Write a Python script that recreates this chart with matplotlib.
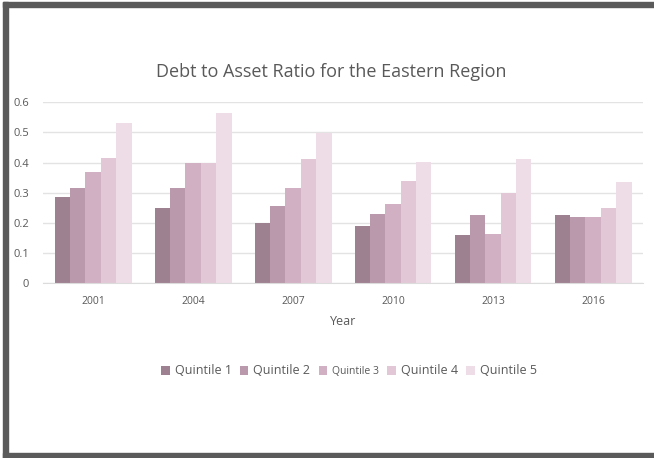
import numpy as np
import matplotlib
matplotlib.use("Agg")
import matplotlib.pyplot as plt
from matplotlib.patches import Rectangle

years = ["2001", "2004", "2007", "2010", "2013", "2016"]
series_names = ["Quintile 1", "Quintile 2", "Quintile 3", "Quintile 4", "Quintile 5"]
q1 = [0.285, 0.249, 0.201, 0.190, 0.161, 0.225]
q2 = [0.315, 0.315, 0.255, 0.231, 0.227, 0.221]
q3 = [0.369, 0.399, 0.316, 0.264, 0.163, 0.221]
q4 = [0.415, 0.400, 0.412, 0.339, 0.300, 0.250]
q5 = [0.530, 0.564, 0.499, 0.403, 0.412, 0.335]
yticks = [0, 0.1, 0.2, 0.3, 0.4, 0.5, 0.6]
ytick_labels = ["0", "0.1", "0.2", "0.3", "0.4", "0.5", "0.6"]

colors = ["#9e8191", "#b999ab", "#d2b0c3", "#e2c8d6", "#eedde6"]
text_color = "#595959"
plt.rcParams["font.family"] = ["Open Sans", "DejaVu Sans"]

fig = plt.figure(figsize=(6.54, 4.58), dpi=100)
ax = fig.add_axes([43 / 654, 1 - 283.3 / 458, 600 / 654, 181 / 458])

values = [q1, q2, q3, q4, q5]
x = np.arange(len(years))
bw = 0.154
for i, (name, vals) in enumerate(zip(series_names, values)):
    ax.bar(x + (i - 2) * bw, vals, width=bw, color=colors[i], label=name, zorder=2)

ax.set_xlim(-0.5, len(years) - 0.5)
ax.set_ylim(0, 0.6)
ax.set_yticks(yticks)
ax.set_yticklabels(ytick_labels)
ax.set_xticks(x)
ax.set_xticklabels(years)
ax.grid(axis="y", color="#e3e3e3", linewidth=1.0, zorder=0)
for s in ["top", "right", "left"]:
    ax.spines[s].set_visible(False)
ax.spines["bottom"].set_color("#dcdcdc")
ax.tick_params(axis="both", length=0, colors=text_color, labelsize=7.5)
ax.tick_params(axis="y", pad=10, labelsize=8)
ax.tick_params(axis="x", pad=9)
ax.set_xlabel("Year", color=text_color, fontsize=9, labelpad=6)

fig.text(331 / 654, 1 - 72 / 458, "Debt to Asset Ratio for the Eastern Region",
         ha="center", va="center", color=text_color, fontsize=13)

leg = fig.legend(loc="center", bbox_to_anchor=(349 / 654, 1 - 371 / 458), ncol=5,
                 frameon=False, fontsize=9, handlelength=0.7, handleheight=0.7,
                 handletextpad=0.4, columnspacing=0.65, labelcolor=text_color)
leg.get_texts()[2].set_fontsize(7.5)

# outer frame
border = "#5a5a5a"
fig.patches.append(Rectangle((3 / 654, 0), 5 / 654, 1 - 2 / 458, transform=fig.transFigure,
                             color=border, zorder=10))
fig.patches.append(Rectangle((3 / 654, 1 - 7 / 458), 1, 5 / 458, transform=fig.transFigure,
                             color=border, zorder=10))
fig.patches.append(Rectangle((3 / 654, 0), 1, 5 / 458, transform=fig.transFigure,
                             color=border, zorder=10))

fig.savefig("out.png", dpi=100, facecolor="white")
